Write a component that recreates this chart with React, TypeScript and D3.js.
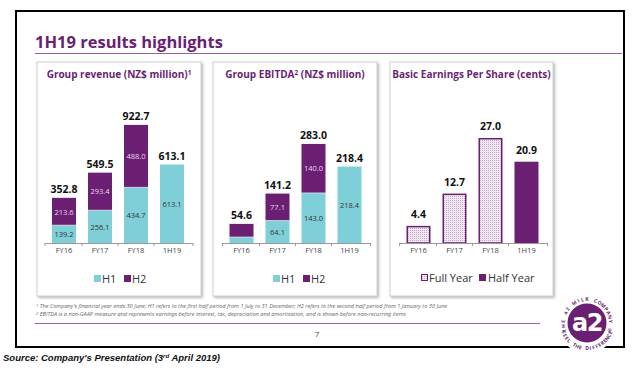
import React from 'react';
import * as d3 from 'd3';

const categories = ['FY16', 'FY17', 'FY18', '1H19'];

const revenueH1 = [139.2, 256.1, 434.7, 613.1];
const revenueH2 = [213.6, 293.4, 488.0, 0];
const revenueTotal = ['352.8', '549.5', '922.7', '613.1'];

const ebitdaH1 = [17.1, 64.1, 143.0, 218.4];
const ebitdaH2 = [37.5, 77.1, 140.0, 0];
const ebitdaTotal = ['54.6', '141.2', '283.0', '218.4'];
const ebitdaShowInner = [false, true, true, true];

const epsValues = [4.4, 12.7, 27.0, 20.9];
const epsType = ['full', 'full', 'full', 'half'];

const footnotes = [
  "The Company's financial year ends 30 June; H1 refers to the first half period from 1 July to 31 December; H2 refers to the second half period from 1 January to 30 June",
  'EBITDA is a non-GAAP measure and represents earnings before interest, tax, depreciation and amortisation, and is shown before non-recurring items',
];

const PURPLE = '#6a1f72';
const TEAL = '#7fcfd8';
const FONT = "'Open Sans', 'Noto Sans', sans-serif";
const BASE_Y = 243;

interface StackProps {
  x0: number;
  x1: number;
  yMax: number;
  yTop: number;
  h1: number[];
  h2: number[];
  totals: string[];
  showInner?: boolean[];
  legendX: number;
}

const Axis: React.FC<{ x: d3.ScaleBand<string>; x0: number; x1: number }> = ({ x, x0, x1 }) => {
  const bounds = [x0, ...categories.slice(1).map((c) => (x(c) || 0) - (x.step() - x.bandwidth()) / 2), x1];
  return (
    <g>
      <line x1={x0} x2={x1} y1={BASE_Y + 0.5} y2={BASE_Y + 0.5} stroke="#9a9a9a" strokeWidth={1} />
      {bounds.map((b, i) => (
        <line key={i} x1={b} x2={b} y1={BASE_Y} y2={BASE_Y + 3} stroke="#9a9a9a" strokeWidth={1} />
      ))}
      {categories.map((c) => (
        <text
          key={c}
          x={(x(c) || 0) + x.bandwidth() / 2}
          y={BASE_Y + 10}
          textAnchor="middle"
          fontSize={7.5}
          fill="#444"
          fontFamily={FONT}
        >
          {c}
        </text>
      ))}
    </g>
  );
};

const StackChart: React.FC<StackProps> = ({ x0, x1, yMax, yTop, h1, h2, totals, showInner, legendX }) => {
  const x = d3.scaleBand<string>().domain(categories).range([x0, x1]).paddingInner(1 / 3).paddingOuter(1 / 6);
  const y = d3.scaleLinear().domain([0, yMax]).range([BASE_Y, yTop]);
  return (
    <g>
      {categories.map((c, i) => {
        const bx = x(c) || 0;
        const bw = x.bandwidth();
        const cx = bx + bw / 2;
        const top1 = y(h1[i]);
        const top2 = y(h1[i] + h2[i]);
        const inner = showInner ? showInner[i] : true;
        return (
          <g key={c}>
            <rect x={bx} y={top1} width={bw} height={BASE_Y - top1} fill={TEAL} />
            {h2[i] > 0 && <rect x={bx} y={top2} width={bw} height={top1 - top2} fill={PURPLE} />}
            {h2[i] > 0 && <line x1={bx} x2={bx + bw} y1={top1} y2={top1} stroke="#fff" strokeWidth={0.6} />}
            {inner && (
              <text x={cx} y={(top1 + BASE_Y) / 2 + 3} textAnchor="middle" fontSize={7.5} fill="#333" fontFamily={FONT}>
                {h1[i].toFixed(1)}
              </text>
            )}
            {inner && h2[i] > 0 && (
              <text x={cx} y={(top1 + top2) / 2 + 3} textAnchor="middle" fontSize={7.5} fill="#e6d6ea" fontFamily={FONT}>
                {h2[i].toFixed(1)}
              </text>
            )}
            <text x={cx} y={top2 - 5} textAnchor="middle" fontSize={10.5} fontWeight="bold" fill="#111" fontFamily={FONT}>
              {totals[i]}
            </text>
          </g>
        );
      })}
      <Axis x={x} x0={x0 - 1} x1={x1 + 3} />
      <g fontFamily={FONT} fontSize={11} fill="#333">
        <rect x={legendX} y={275} width={7} height={7} fill={TEAL} />
        <text x={legendX + 8} y={283}>H1</text>
        <rect x={legendX + 30} y={275} width={7} height={7} fill={PURPLE} />
        <text x={legendX + 38} y={283}>H2</text>
      </g>
    </g>
  );
};

const EpsChart: React.FC = () => {
  const x0 = 400.5;
  const x1 = 544.5;
  const x = d3.scaleBand<string>().domain(categories).range([x0, x1]).paddingInner(1 / 3).paddingOuter(1 / 6);
  const y = d3.scaleLinear().domain([0, 30]).range([BASE_Y, BASE_Y - 116.7]);
  return (
    <g>
      {categories.map((c, i) => {
        const bx = x(c) || 0;
        const bw = x.bandwidth();
        const top = y(epsValues[i]);
        const full = epsType[i] === 'full';
        return (
          <g key={c}>
            <rect
              x={bx + (full ? 0.75 : 0)}
              y={top + (full ? 0.75 : 0)}
              width={bw - (full ? 1.5 : 0)}
              height={BASE_Y - top - (full ? 0.75 : 0)}
              fill={full ? 'url(#dots)' : PURPLE}
              stroke={full ? PURPLE : 'none'}
              strokeWidth={1.5}
            />
            <text x={bx + bw / 2} y={top - 8} textAnchor="middle" fontSize={10.5} fontWeight="bold" fill="#111" fontFamily={FONT}>
              {epsValues[i].toFixed(1)}
            </text>
          </g>
        );
      })}
      <Axis x={x} x0={x0 - 1} x1={x1 + 3} />
      <g fontFamily={FONT} fontSize={11} fill="#333">
        <rect x={421.5} y={274.5} width={6} height={6} fill="url(#dots)" stroke={PURPLE} strokeWidth={1} />
        <text x={429} y={282}>Full Year</text>
        <rect x={479} y={274} width={7} height={7} fill={PURPLE} />
        <text x={488} y={282}>Half Year</text>
      </g>
    </g>
  );
};

const Panel: React.FC<{ x: number; w: number; title: React.ReactNode }> = ({ x, w, title }) => (
  <g>
    <rect x={x} y={62} width={w} height={234} fill="#fff" stroke="#cfcfcf" strokeWidth={1} filter="url(#shadow)" />
    <text x={x + w / 2} y={78} textAnchor="middle" fontSize={10} fontWeight="bold" fill={PURPLE} fontFamily={FONT}>
      {title}
    </text>
  </g>
);

// ring letters placed one by one around the logo
const ringText = (str: string, cx: number, cy: number, r: number, a0: number, a1: number, outward: boolean) => {
  const chars = str.split('');
  const step = (a1 - a0) / (chars.length - 1);
  return chars.map((ch, i) => {
    const a = a0 + step * i;
    const rad = (a * Math.PI) / 180;
    const px = cx + r * Math.cos(rad);
    const py = cy + r * Math.sin(rad);
    const rot = outward ? a + 90 : a - 90;
    return (
      <text
        key={`${str}-${i}`}
        transform={`translate(${px.toFixed(2)},${py.toFixed(2)}) rotate(${rot.toFixed(1)})`}
        textAnchor="middle"
        fontSize={5}
        fontWeight="bold"
        fill={PURPLE}
        fontFamily={FONT}
      >
        {ch}
      </text>
    );
  });
};

const Logo: React.FC = () => {
  const cx = 587;
  const cy = 323;
  return (
    <g>
      <circle cx={cx} cy={cy} r={30} fill="#fff" />
      <circle cx={cx} cy={cy} r={19.5} fill={PURPLE} />
      <text x={cx} y={cy + 8} textAnchor="middle" fontSize={24} fontWeight="bold" fill="#fff" fontFamily="'DejaVu Sans', sans-serif" letterSpacing={-1.5}>
        a2
      </text>
      {ringText('THE a2 MILK COMPANY ®', cx, cy, 22, -198, 18, true)}
      {ringText('FEEL THE DIFFERENCE', cx, cy, 27, 158, 22, false)}
    </g>
  );
};

const App: React.FC = () => {
  return (
    <svg width={638} height={373} style={{ position: 'absolute', left: 0, top: 0, background: '#fff' }}>
      <defs>
        <pattern id="dots" width={2} height={2} patternUnits="userSpaceOnUse">
          <rect width={2} height={2} fill="#f2e8f3" />
          <rect width={1} height={1} fill="#c6a7cb" />
        </pattern>
        <filter id="shadow" x="-5%" y="-5%" width="115%" height="115%">
          <feDropShadow dx={1.5} dy={1.5} stdDeviation={1} floodColor="#888" floodOpacity={0.6} />
        </filter>
      </defs>

      <rect x={16} y={11} width={608} height={336} fill="#fff" stroke="#000" strokeWidth={2} />

      <text x={35} y={48} fontSize={16.5} fontWeight="bold" fill={PURPLE} fontFamily={FONT}>
        1H19 results highlights
      </text>
      <line x1={35} x2={622} y1={53.5} y2={53.5} stroke="#9b5ea3" strokeWidth={1} />

      <Panel x={37} w={164} title={<>Group revenue (NZ$ million)<tspan fontSize={6.5} dy={-3}>1</tspan></>} />
      <Panel x={213} w={164} title={<>Group EBITDA<tspan fontSize={6.5} dy={-3}>2</tspan><tspan dy={3}> (NZ$ million)</tspan></>} />
      <Panel x={390} w={163} title="Basic Earnings Per Share (cents)" />

      <StackChart x0={46} x1={190} yMax={1000} yTop={BASE_Y - 128} h1={revenueH1} h2={revenueH2} totals={revenueTotal} legendX={94} />
      <StackChart
        x0={223.5}
        x1={367.5}
        yMax={300}
        yTop={BASE_Y - 105}
        h1={ebitdaH1}
        h2={ebitdaH2}
        totals={ebitdaTotal}
        showInner={ebitdaShowInner}
        legendX={273}
      />
      <EpsChart />

      <g fontFamily={FONT} fontSize={5.6} fontStyle="italic" fill="#666">
        {footnotes.map((f, i) => (
          <text key={i} x={36} y={308 + i * 8}>
            <tspan fontSize={4} dy={-1.5}>{i + 1}</tspan>
            <tspan dy={1.5}> {f}</tspan>
          </text>
        ))}
      </g>
      <line x1={35} x2={540} y1={323.5} y2={323.5} stroke="#9b5ea3" strokeWidth={1} />
      <text x={317} y={337} textAnchor="middle" fontSize={8} fill="#444" fontFamily={FONT}>7</text>

      <Logo />

      <text x={3} y={361} fontSize={9.5} fontWeight="bold" fontStyle="italic" fill="#111" fontFamily="'Liberation Sans', sans-serif">
        Source: Company's Presentation (3<tspan fontSize={6} dy={-3.5}>rd</tspan><tspan dy={3.5}> April 2019)</tspan>
      </text>
    </svg>
  );
};

export default App;
